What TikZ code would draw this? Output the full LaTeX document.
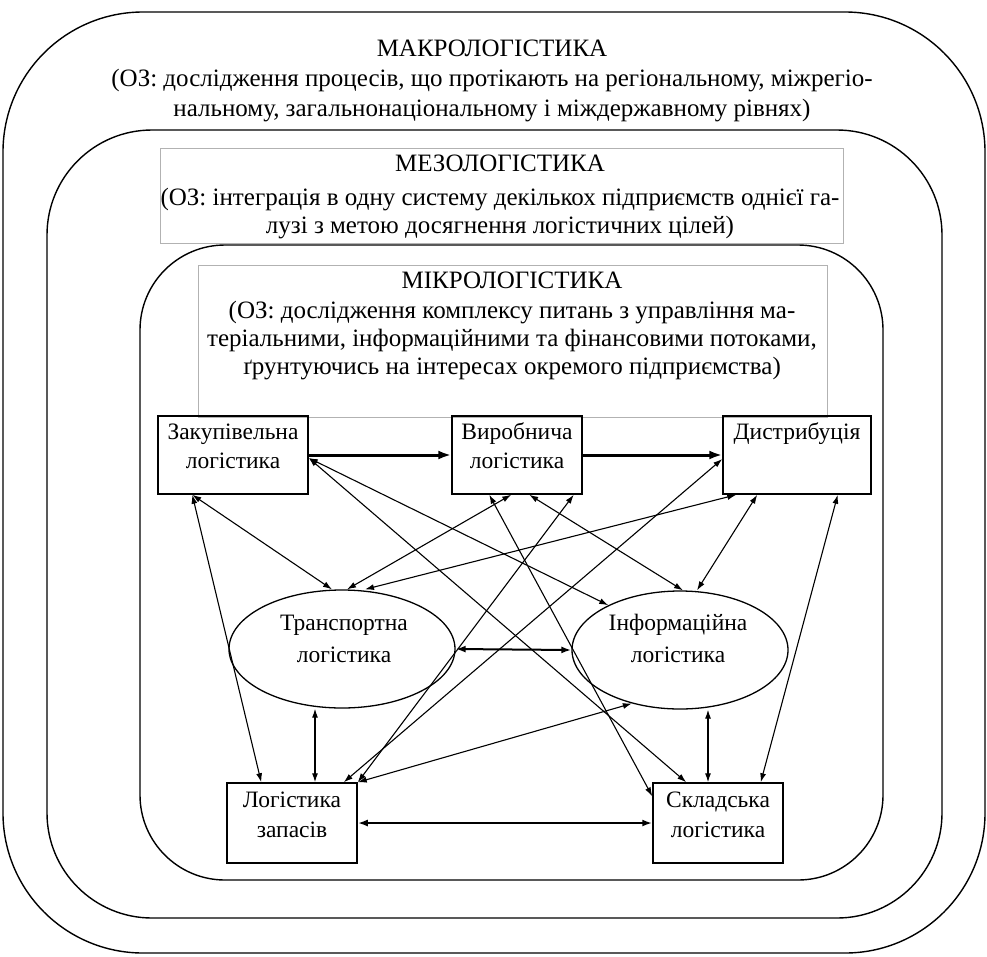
\documentclass[tikz,border=0pt]{standalone}
\usepackage{fontspec}
\setmainfont{Liberation Serif}
\usetikzlibrary{arrows.meta,shapes.geometric}
\begin{document}
\begin{tikzpicture}[x=1pt,y=-1pt,
  frame/.style={draw, line width=1.4pt},
  note/.style={draw=black!30, line width=0.8pt},
  blk/.style={draw, line width=1.5pt, rectangle, inner sep=0pt},
  oval/.style={draw, line width=1.3pt, ellipse, inner sep=0pt},
  txt/.style={anchor=base, inner sep=0pt, font=\fontsize{25}{30}\selectfont},
  lbl/.style={anchor=base, inner sep=0pt, font=\fontsize{23.5}{28}\selectfont},
  link/.style={line width=1.1pt, {Latex[length=9pt,width=6pt]}-{Latex[length=9pt,width=6pt]}},
  flow/.style={line width=3pt, -{Latex[length=13pt,width=9pt]}},
  pair/.style={line width=2pt, {Latex[length=10pt,width=7pt]}-{Latex[length=10pt,width=7pt]}},
]
\useasboundingbox (0,0) rectangle (987,956);
\fill[white] (0,0) rectangle (987,956);

% nested levels
\draw[frame, rounded corners=140pt] (3,12) rectangle (985,953);
\draw[frame, rounded corners=105pt] (47,130) rectangle (942,918);
\draw[frame, rounded corners=85pt] (140,245) rectangle (883,880);

% description frames
\draw[note] (160,148) rectangle (843,243);
\draw[note] (198,265) rectangle (827,417);

% macro level text
\node[txt] (macT) at (492,56) {МАКРОЛОГІСТИКА};
\node[txt] (mac1) at (492,86) {(ОЗ: дослідження процесів, що протікають на регіональному, міжрегіо-};
\node[txt] (mac2) at (492,116) {нальному, загальнонаціональному і міждержавному рівнях)};

% meso level text
\node[txt] (mesT) at (500,171) {МЕЗОЛОГІСТИКА};
\node[txt] (mes1) at (500,205) {(ОЗ: інтеграція в одну систему декількох підприємств однієї га-};
\node[txt] (mes2) at (500,233) {лузі з метою досягнення логістичних цілей)};

% micro level text
\node[txt] (micT) at (512,288) {МІКРОЛОГІСТИКА};
\node[txt] (mic1) at (512,318) {(ОЗ: дослідження комплексу питань з управління ма-};
\node[txt] (mic2) at (512,346) {теріальними, інформаційними та фінансовими потоками,};
\node[txt] (mic3) at (512,374) {ґрунтуючись на інтересах окремого підприємства)};

% functional areas
\node[blk, minimum width=150pt, minimum height=78pt] (zak) at (233,455) {};
\node[blk, minimum width=130pt, minimum height=78pt] (vyr) at (517,455) {};
\node[blk, minimum width=148pt, minimum height=78pt] (dis) at (797,455) {};
\node[oval, minimum width=226pt, minimum height=118pt] (tr) at (342,649) {};
\node[oval, minimum width=216pt, minimum height=118pt] (inf) at (680,650) {};
\node[blk, minimum width=130pt, minimum height=80pt] (zap) at (292,823) {};
\node[blk, minimum width=130pt, minimum height=80pt] (skl) at (718,823) {};

\node[lbl] (zakA) at (233,439) {Закупівельна};
\node[lbl] (zakB) at (233,468) {логістика};
\node[lbl] (vyrA) at (517,439) {Виробнича};
\node[lbl] (vyrB) at (517,468) {логістика};
\node[lbl] (disA) at (797,439) {Дистрибуція};
\node[lbl] (trA) at (344,630) {Транспортна};
\node[lbl] (trB) at (344,662) {логістика};
\node[lbl] (infA) at (678,630) {Інформаційна};
\node[lbl] (infB) at (678,662) {логістика};
\node[lbl] (zapA) at (292,807) {Логістика};
\node[lbl] (zapB) at (292,837) {запасів};
\node[lbl] (sklA) at (718,807) {Складська};
\node[lbl] (sklB) at (718,837) {логістика};

% main material flow
\draw[flow] (zak.east) -- (vyr.west);
\draw[flow] (vyr.east) -- (dis.west);

% links between areas
\draw[link] ([yshift=-3pt]zak.east) -- ([xshift=34pt]skl.north west);
\draw[link] ([yshift=-3pt]zak.east) -- (inf.148);
\draw[link] ([xshift=35pt]zak.south west) -- ([xshift=35pt]zap.north west);
\draw[link] ([xshift=35pt]zak.south west) -- ([xshift=-10pt]tr.north);
\draw[link] ([xshift=38pt]vyr.south west) -- ([yshift=-14pt]skl.north west);
\draw[link] ([xshift=60pt]vyr.south west) -- ([xshift=5pt]tr.north);
\draw[link] ([xshift=78pt]vyr.south west) -- ([xshift=3pt]inf.north);
\draw[link] ([xshift=-9pt]vyr.south east) -- (zap.north east);
\draw[link] ([yshift=-4pt]dis.west) -- ([xshift=-14pt]zap.north east);
\draw[link] ([xshift=14pt]dis.south west) -- ([xshift=23pt]tr.north);
\draw[link] ([xshift=35pt]dis.south west) -- ([xshift=17pt]inf.north);
\draw[link] ([xshift=-34pt]dis.south east) -- ([xshift=-23pt]skl.north east);
\draw[link] ([xshift=-27pt]tr.south) -- ([xshift=23pt]zap.north);
\draw[link] ([xshift=28pt]inf.south) -- ([xshift=-10pt]skl.north);
\draw[link] (zap.north east) -- (inf.228);
\draw[pair] (tr.east) -- (inf.west);
\draw[pair] (zap.east) -- (skl.west);
\end{tikzpicture}
\end{document}
